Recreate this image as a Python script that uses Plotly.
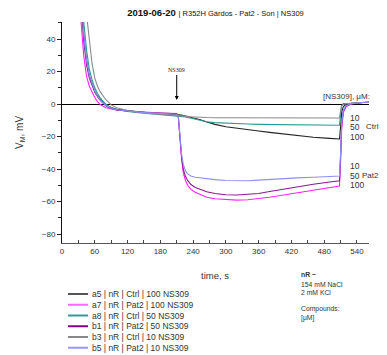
import plotly.graph_objects as go

# ---------------- data ----------------
time_s = [30, 35, 40, 45, 50, 55, 60, 65, 70, 80, 90, 100, 120, 140, 160, 180, 200, 210,
          213, 216, 219, 222, 226, 230, 236, 244, 252, 265, 280, 300, 320, 340, 360, 380,
          400, 430, 460, 490, 505, 508, 510, 512, 515, 520, 530, 540, 550, 562]

a5_ctrl_100 = [110, 68, 42, 27, 17.5, 12, 8, 5, 2.8, -0.4, -2.2, -3.2, -4.2, -4.8, -5.3, -5.7, -6.0, -6.2,
               -6.4, -6.6, -6.8, -7.0, -7.3, -7.7, -8.3, -8.9, -9.5, -11.0, -12.5, -14.0, -15.0, -15.8, -16.6, -17.4,
               -18.2, -19.5, -20.4, -21.1, -21.4, -21.5, -14, -5, -1.5, -0.3, 0.4, 0.8, 1.0, 1.1]

a7_pat2_100 = [85, 50, 29, 17, 11, 7, 4, 1.5, -0.3, -2.3, -3.2, -3.7, -4.3, -4.8, -5.2, -5.5, -5.8, -6.0,
               -8, -22, -34, -42, -47, -50, -52.5, -54.3, -55.5, -57.3, -58.3, -58.9, -59.1, -58.9, -58.2, -57.3,
               -56.3, -54.6, -53.0, -51.5, -50.7, -50.5, -35, -15, -5, -1.5, 0.0, 0.7, 1.0, 1.1]

a8_ctrl_50 = [120, 80, 50, 33, 21.5, 15, 10, 6.5, 3.8, 0.0, -2.2, -3.4, -4.6, -5.3, -5.9, -6.4, -6.8, -7.0,
              -7.1, -7.3, -7.5, -7.7, -8.0, -8.3, -8.8, -9.4, -10.3, -10.9, -11.4, -11.8, -12.1, -12.3, -12.5, -12.6,
              -12.7, -12.8, -12.9, -13.0, -13.0, -13.0, -6, -1, 0.5, 0.2, 0.5, 0.8, 1.0, 1.1]

b1_pat2_50 = [100, 62, 38, 24, 16, 11, 7.3, 4.5, 2.2, -1.0, -2.7, -3.6, -4.4, -4.9, -5.3, -5.6, -5.8, -5.9,
              -8, -22, -33, -40, -44.5, -47, -49.5, -51.3, -52.5, -54.0, -55.0, -55.8, -56.0, -55.7, -55.0, -53.8,
              -52.6, -50.8, -49.3, -48.0, -47.4, -47.2, -32, -13, -4.5, -1.3, 0.2, 0.8, 1.0, 1.1]

b3_ctrl_10 = [150, 110, 80, 55, 38, 25, 16, 11, 7.5, 2.8, -0.5, -2.3, -4.0, -5.0, -5.7, -6.2, -6.6, -6.8,
              -6.9, -7.0, -7.1, -7.2, -7.4, -7.6, -7.8, -8.0, -8.2, -8.3, -8.4, -8.4, -8.4, -8.5, -8.5, -8.5,
              -8.5, -8.5, -8.6, -8.6, -8.6, -8.6, -4, -1, -0.2, 0.2, 0.5, 0.8, 1.0, 1.1]

b5_pat2_10 = [110, 68, 42, 27, 17.5, 12, 8, 5, 2.5, -0.7, -2.5, -3.5, -4.4, -5.0, -5.4, -5.8, -6.1, -6.3,
              -8, -21, -31, -37, -41, -43, -44.3, -45.0, -45.4, -46.0, -46.5, -47.0, -47.3, -47.2, -46.8, -46.3,
              -45.9, -45.4, -45.0, -44.6, -44.4, -44.3, -30, -12, -4, -1, 0.3, 0.8, 1.0, 1.1]

series_names = ["a5 | nR | Ctrl | 100 NS309", "a7 | nR | Pat2 | 100 NS309", "a8 | nR | Ctrl | 50 NS309",
                "b1 | nR | Pat2 | 50 NS309", "b3 | nR | Ctrl | 10 NS309", "b5 | nR | Pat2 | 10 NS309"]
series_values = [a5_ctrl_100, a7_pat2_100, a8_ctrl_50, b1_pat2_50, b3_ctrl_10, b5_pat2_10]
series_colors = ["#222222", "#ff22ff", "#2a9a96", "#8a1a8a", "#8a8a8a", "#8f8ff5"]
legend_colors = ["#555555", "#ff66ff", "#339999", "#880088", "#888888", "#9999ff"]

x_tick_vals = [0, 60, 120, 180, 240, 300, 360, 420, 480, 540]
y_tick_vals = [-80, -60, -40, -20, 0, 20, 40]
ns309_time = 210
conc_labels = ["10", "50", "100"]

# ---------------- figure ----------------
# The page body has an 8px margin, so the figure is drawn 8px smaller and
# all positions below are given in window pixels and shifted by OFF.
OFF = 8
W, H = 387 - OFF, 355 - OFF
L, R, T, B = 62, 369, 22, 243          # plot area in window pixels
FONT = "Liberation Sans, Arial, sans-serif"


def px(x):
    return (x - L) / (R - L)


def py(y):
    return (B - y) / (B - T)


fig = go.Figure()
for name, vals, col in zip(series_names, series_values, series_colors):
    fig.add_trace(go.Scatter(x=time_s, y=vals, mode="lines", name=name,
                             line=dict(color=col, width=1.1), showlegend=False))

fig.update_layout(
    width=W, height=H,
    margin=dict(l=L - OFF, r=W - (R - OFF), t=T - OFF, b=H - (B - OFF), autoexpand=False),
    plot_bgcolor="white", paper_bgcolor="white",
    font=dict(family=FONT, size=8, color="#333333"),
    showlegend=False,
    title=dict(
        text="<b>2019-06-20</b> <span style='font-size:7.5px'>| R352H Gárdos - Pat2 - Son | NS309</span>",
        x=0.5, xref="paper", xanchor="center",
        y=1 - (13 - OFF) / H, yref="container", yanchor="middle",
        font=dict(family=FONT, size=9.5, color="#111111"),
    ),
    xaxis=dict(range=[0, 562], tickvals=x_tick_vals, ticks="inside", ticklen=3,
               tickcolor="#444444", showline=True, linecolor="#555555", linewidth=1,
               showgrid=False, zeroline=False,
               minor=dict(dtick=30, tick0=0, ticks="inside", ticklen=3, tickcolor="#444444"),
               tickfont=dict(size=8, color="#333333")),
    yaxis=dict(range=[-85.5, 50.5], tickvals=y_tick_vals, ticks="outside", ticklen=4,
               tickcolor="#222222", showline=True, linecolor="#111111", linewidth=1,
               showgrid=False, zeroline=True, zerolinecolor="#000000", zerolinewidth=1,
               minor=dict(dtick=10, tick0=0, ticks="outside", ticklen=3, tickcolor="#222222"),
               tickfont=dict(size=8, color="#333333")),
)


def note(text, x, y, size, xanchor="left", **kw):
    d = dict(text=text, x=px(x), y=py(y), xref="paper", yref="paper",
             xanchor=xanchor, yanchor="middle", showarrow=False, borderpad=0,
             font=dict(size=size, color="#333333"))
    d.update(kw)
    return d


ann = []
# axis titles
ann.append(note("V<sub>M</sub>, mV", 20, 133, 10, xanchor="center", textangle=-90))
ann.append(note("time, s", 215, 275, 9.5, xanchor="center"))
# NS309 arrow
ann.append(dict(text="NS309", x=ns309_time, y=2.5, xref="x", yref="y", ax=0, ay=-25,
                xanchor="center", yanchor="bottom",
                showarrow=True, arrowhead=2, arrowsize=0.8, arrowwidth=1, arrowcolor="#000000",
                font=dict(family="Liberation Serif, DejaVu Serif, serif", size=6, color="#222222")))
# concentration labels
ann.append(note("[NS309], μM:", 371, 96, 8, xanchor="right"))
for i, c in enumerate(conc_labels):
    ann.append(note(c, 349, 117.7 + 9.7 * i, 8.5))
    ann.append(note(c, 349, 166 + 9.7 * i, 8.5))
ann.append(note("Ctrl", 380, 126.5, 8, xanchor="right"))
ann.append(note("Pat2", 380, 175, 8, xanchor="right"))
# solution notes
notes = [("<b>nR ~</b>", 274.5), ("154 mM NaCl", 284), ("2 mM KCl", 292.5),
         ("Compounds:", 309), ("[μM]", 318)]
for txt, yy in notes:
    ann.append(note(txt, 300, yy, 6.8))

# manual legend
shapes = []
for i, (name, col) in enumerate(zip(series_names, legend_colors)):
    yy = 294 + 10.75 * i
    shapes.append(dict(type="line", xref="paper", yref="paper", x0=px(68), x1=px(88),
                       y0=py(yy), y1=py(yy), line=dict(color=col, width=2)))
    ann.append(note(name, 91, yy, 8.5))

fig.update_layout(annotations=ann, shapes=shapes)
fig.write_html("out.html")
